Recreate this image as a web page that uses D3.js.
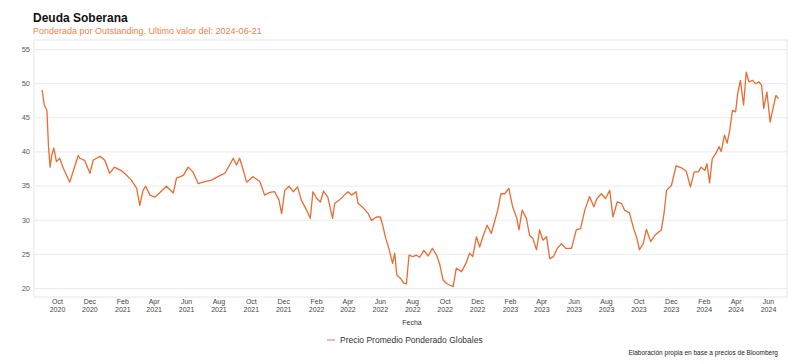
<!DOCTYPE html>
<html>
<head>
<meta charset="utf-8">
<script src="https://cdn.jsdelivr.net/npm/d3@7"></script>
<style>
  body { margin: 0; background: #fff; }
  svg { font-family: "Liberation Sans", Arial, sans-serif; }
</style>
</head>
<body>
<div id="chart"></div>
<script>
// Series: weighted average price of global bonds
var dates = [
  "2020-09-03","2020-09-07","2020-09-12","2020-09-15","2020-09-18","2020-09-21","2020-09-25","2020-09-30",
  "2020-10-06","2020-10-13","2020-10-19","2020-10-25","2020-11-01","2020-11-10","2020-11-13","2020-11-22",
  "2020-12-02","2020-12-08","2020-12-21","2020-12-30","2021-01-08","2021-01-17","2021-01-30","2021-02-09",
  "2021-02-18","2021-02-28","2021-03-06","2021-03-12","2021-03-17","2021-03-25","2021-04-03","2021-04-12",
  "2021-04-25","2021-05-08","2021-05-14","2021-05-27","2021-06-05","2021-06-14","2021-06-24","2021-07-03",
  "2021-07-19","2021-07-31","2021-08-13","2021-08-22","2021-08-29","2021-09-04","2021-09-10","2021-09-17",
  "2021-09-23","2021-10-05","2021-10-18","2021-10-27","2021-11-06","2021-11-15","2021-11-23","2021-11-28",
  "2021-12-04","2021-12-12","2021-12-20","2021-12-28","2022-01-04","2022-01-14","2022-01-21","2022-01-26",
  "2022-02-02","2022-02-09","2022-02-15","2022-02-23","2022-03-04","2022-03-08","2022-03-17","2022-03-26",
  "2022-04-02","2022-04-09","2022-04-17","2022-04-21","2022-04-30","2022-05-10","2022-05-16","2022-05-26",
  "2022-06-02","2022-06-07","2022-06-12","2022-06-18","2022-06-25","2022-06-29","2022-07-03","2022-07-10",
  "2022-07-16","2022-07-21","2022-07-26","2022-08-02","2022-08-09","2022-08-15","2022-08-23","2022-08-31",
  "2022-09-08","2022-09-16","2022-09-22","2022-09-28","2022-10-04","2022-10-11","2022-10-17","2022-10-23",
  "2022-11-02","2022-11-10","2022-11-17","2022-11-23","2022-11-30","2022-12-06","2022-12-12","2022-12-20",
  "2022-12-28","2023-01-03","2023-01-09","2023-01-15","2023-01-22","2023-01-30","2023-02-06","2023-02-14",
  "2023-02-18","2023-02-24","2023-03-04","2023-03-10","2023-03-16","2023-03-23","2023-03-29","2023-04-04",
  "2023-04-11","2023-04-17","2023-04-24","2023-05-01","2023-05-09","2023-05-17","2023-05-28","2023-06-06",
  "2023-06-14","2023-06-22","2023-07-01","2023-07-09","2023-07-15","2023-07-23","2023-07-31","2023-08-08",
  "2023-08-14","2023-08-22","2023-08-30","2023-09-05","2023-09-14","2023-09-22","2023-09-28","2023-10-03",
  "2023-10-10","2023-10-16","2023-10-24","2023-11-02","2023-11-13","2023-11-18","2023-11-23","2023-12-02",
  "2023-12-11","2023-12-21","2023-12-30","2024-01-07","2024-01-14","2024-01-22","2024-01-27","2024-02-03",
  "2024-02-07","2024-02-12","2024-02-17","2024-02-23","2024-03-01","2024-03-05","2024-03-11","2024-03-16",
  "2024-03-21","2024-03-26","2024-04-01","2024-04-05","2024-04-10","2024-04-16","2024-04-21","2024-04-26",
  "2024-05-03","2024-05-09","2024-05-15","2024-05-20","2024-05-24","2024-05-30","2024-06-05","2024-06-11",
  "2024-06-16","2024-06-21"
];
var precios = [
  49.0,46.8,46.0,40.7,37.7,39.4,40.5,38.5,
  39.0,37.5,36.5,35.5,37.2,39.4,39.0,38.7,
  36.8,38.7,39.3,38.7,36.8,37.7,37.2,36.5,
  35.8,34.6,32.1,34.3,34.9,33.6,33.3,33.9,
  34.9,33.9,36.1,36.5,37.7,37.0,35.3,35.5,
  35.8,36.3,36.8,38.0,39.0,38.0,39.0,37.2,
  35.5,36.3,35.6,33.6,34.0,34.1,32.9,30.9,
  34.3,34.9,34.1,34.8,32.9,31.4,30.2,34.1,
  33.1,32.6,34.2,33.3,30.2,32.4,32.9,33.6,
  34.1,33.6,34.1,32.4,31.8,30.9,29.9,30.4,
  30.4,29.0,27.3,25.8,23.6,25.1,21.9,21.4,
  20.7,20.6,24.8,24.6,24.8,24.5,25.5,24.7,
  25.8,24.8,23.4,21.2,20.7,20.4,20.2,22.9,
  22.4,23.6,25.1,24.6,27.5,26.0,27.5,29.2,
  28.0,29.7,31.4,33.8,33.8,34.6,31.9,30.2,
  28.5,31.4,30.2,27.7,27.3,25.6,28.5,27.0,
  27.5,24.3,24.6,25.8,26.5,25.8,25.8,28.5,
  28.7,31.4,33.4,31.9,33.1,33.8,33.1,34.3,
  30.4,32.6,32.4,31.4,31.0,28.7,27.3,25.6,
  26.5,28.6,26.8,27.8,28.5,30.8,34.3,35.0,
  37.9,37.6,37.1,34.8,37.0,37.0,37.7,37.2,
  38.2,35.4,38.9,39.6,40.7,40.0,42.4,41.2,
  43.1,46.0,45.8,48.5,50.4,46.8,51.6,50.2,
  50.4,49.9,50.2,49.7,46.3,48.7,44.3,46.5,
  48.2,47.7
];

// axis ticks
var tickDates = [
  "2020-10-01","2020-12-01","2021-02-01","2021-04-01","2021-06-01","2021-08-01",
  "2021-10-01","2021-12-01","2022-02-01","2022-04-01","2022-06-01","2022-08-01",
  "2022-10-01","2022-12-01","2023-02-01","2023-04-01","2023-06-01","2023-08-01",
  "2023-10-01","2023-12-01","2024-02-01","2024-04-01","2024-06-01"
];
var yTicks = [20, 25, 30, 35, 40, 45, 50, 55];

var seriesName = "Precio Promedio Ponderado Globales";
var lineColor = "#ec6b30";

var svgWidth = 800;
var svgHeight = 364;

var panel = { left: 34, right: 787, top: 40, bottom: 297 };

var parseDate = d3.timeParse("%Y-%m-%d");
var data = dates.map(function(d, i) {
  return { fecha: parseDate(d), precio: precios[i] };
});

var svg = d3.select("#chart")
  .append("svg")
  .attr("width", svgWidth)
  .attr("height", svgHeight);

// scales
var xScale = d3.scaleTime()
  .domain([parseDate("2020-10-01"), parseDate("2024-06-01")])
  .range([57, 768]);

var yScale = d3.scaleLinear()
  .domain([20, 55])
  .range([288, 49]);

// title + subtitle
svg.append("text")
  .attr("x", 33)
  .attr("y", 22)
  .attr("font-size", 12)
  .attr("font-weight", "bold")
  .attr("fill", "#111")
  .text("Deuda Soberana");

svg.append("text")
  .attr("x", 33)
  .attr("y", 34)
  .attr("font-size", 9)
  .attr("fill", "#f0824a")
  .text("Ponderada por Outstanding. Ultimo valor del: 2024-06-21");

// panel border
svg.append("rect")
  .attr("x", panel.left)
  .attr("y", panel.top)
  .attr("width", panel.right - panel.left)
  .attr("height", panel.bottom - panel.top)
  .attr("fill", "none")
  .attr("stroke", "#e6e6e6")
  .attr("stroke-width", 1);

// y axis with gridlines
var yAxis = svg.append("g")
  .attr("transform", `translate(${panel.left}, 0)`)
  .call(d3.axisLeft(yScale)
    .tickValues(yTicks)
    .tickSize(-(panel.right - panel.left))
    .tickPadding(4));

yAxis.select(".domain").remove();
yAxis.selectAll(".tick line")
  .attr("stroke", "#ebebeb");
yAxis.selectAll(".tick text")
  .attr("font-size", 7.5)
  .attr("fill", "#5a5a5a");

// x axis, two line labels
var xAxis = svg.append("g")
  .attr("transform", `translate(0, ${panel.bottom})`)
  .call(d3.axisBottom(xScale)
    .tickValues(tickDates.map(parseDate))
    .tickSize(0)
    .tickFormat(""));

xAxis.select(".domain").remove();

var fmtMonth = d3.timeFormat("%b");
var fmtYear = d3.timeFormat("%Y");

xAxis.selectAll(".tick").each(function(d) {
  var t = d3.select(this).select("text")
    .attr("font-size", 7)
    .attr("fill", "#444")
    .attr("y", 0);
  t.append("tspan").attr("x", 0).attr("dy", "1.0em").text(fmtMonth(d));
  t.append("tspan").attr("x", 0).attr("dy", "1.15em").text(fmtYear(d));
});

// x axis title
svg.append("text")
  .attr("x", 412)
  .attr("y", 325)
  .attr("text-anchor", "middle")
  .attr("font-size", 7)
  .attr("fill", "#333")
  .text("Fecha");

// the line
var line = d3.line()
  .x(d => xScale(d.fecha))
  .y(d => yScale(d.precio));

svg.append("path")
  .datum(data)
  .attr("fill", "none")
  .attr("stroke", lineColor)
  .attr("stroke-width", 1.3)
  .attr("stroke-linejoin", "round")
  .attr("d", line);

// legend
svg.append("line")
  .attr("x1", 327)
  .attr("x2", 335)
  .attr("y1", 340)
  .attr("y2", 340)
  .attr("stroke", "#f08a80")
  .attr("stroke-width", 1.2);

svg.append("text")
  .attr("x", 340)
  .attr("y", 343)
  .attr("font-size", 8.5)
  .attr("fill", "#333")
  .text(seriesName);

// source note
svg.append("text")
  .attr("x", 778)
  .attr("y", 355)
  .attr("text-anchor", "end")
  .attr("font-size", 6.5)
  .attr("fill", "#222")
  .text("Elaboración propia en base a precios de Bloomberg");
</script>
</body>
</html>
